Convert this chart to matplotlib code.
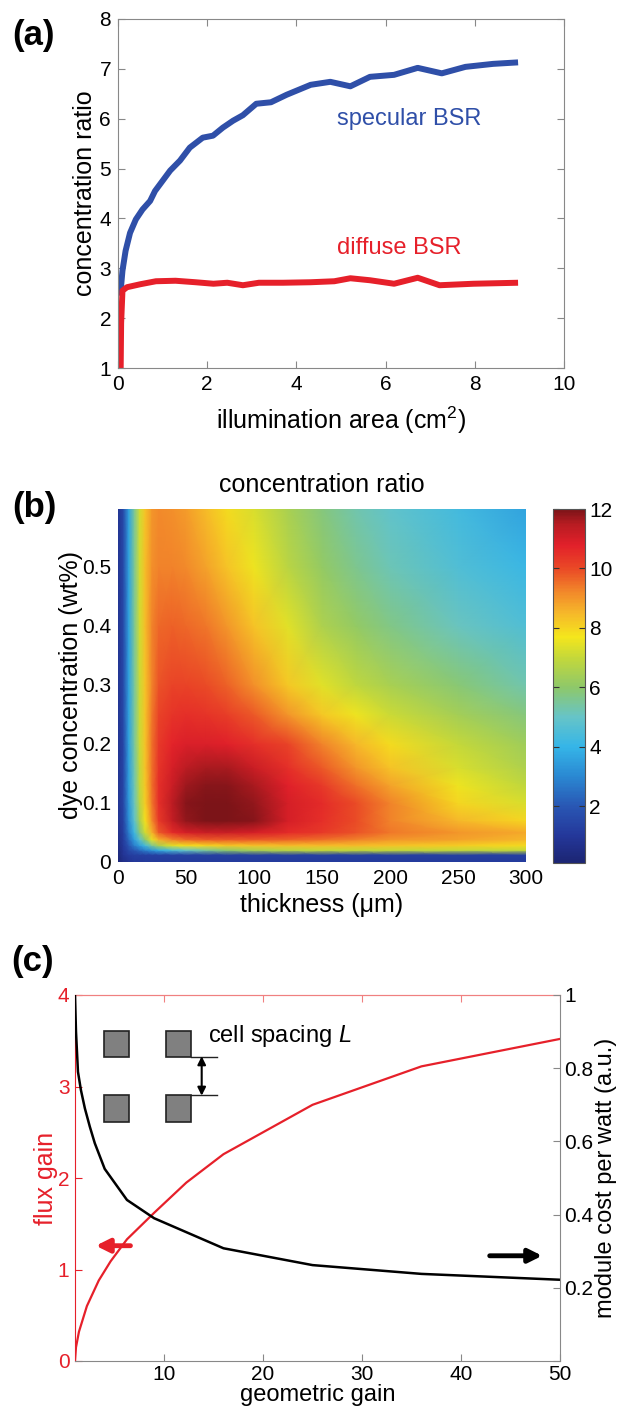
import matplotlib
matplotlib.use('Agg')
import matplotlib.pyplot as plt
import numpy as np
from matplotlib.patches import Rectangle
from matplotlib.colors import LinearSegmentedColormap

plt.rcParams['font.family'] = ['Liberation Sans', 'DejaVu Sans']
plt.rcParams['mathtext.fontset'] = 'custom'
plt.rcParams['mathtext.rm'] = 'Liberation Sans'
plt.rcParams['mathtext.it'] = 'Liberation Sans:italic'
plt.rcParams['mathtext.default'] = 'regular'

# ---------------- data: panel (a) ----------------
area_spec = [0.05, 0.1, 0.17, 0.27, 0.4, 0.55, 0.72, 0.83, 1.17, 1.39, 1.61, 1.9, 2.13,
             2.35, 2.58, 2.8, 3.1, 3.43, 3.78, 4.32, 4.76, 5.21, 5.65, 6.19, 6.72, 7.26,
             7.79, 8.41, 8.97]
ratio_spec = [2.45, 2.95, 3.35, 3.71, 3.98, 4.18, 4.35, 4.55, 4.96, 5.16, 5.42, 5.62, 5.66,
              5.82, 5.96, 6.07, 6.3, 6.33, 6.48, 6.68, 6.74, 6.65, 6.84, 6.88, 7.02, 6.91,
              7.04, 7.10, 7.13]
area_diff = [0.06, 0.07, 0.1, 0.2, 0.5, 0.85, 1.29, 1.74, 2.14, 2.45, 2.8, 3.16, 3.7, 4.32,
             4.85, 5.21, 5.65, 6.19, 6.72, 7.21, 7.97, 8.97]
ratio_diff = [1.0, 1.9, 2.55, 2.62, 2.68, 2.74, 2.75, 2.72, 2.69, 2.71, 2.66, 2.71, 2.71,
              2.72, 2.74, 2.80, 2.76, 2.69, 2.81, 2.66, 2.69, 2.71]

# ---------------- data: panel (b) ----------------
thickness = [0, 4, 8, 12, 16, 20, 25, 30, 40, 50, 65, 80, 100, 125, 150, 175, 200, 250, 300]
dye_conc = [0, 0.012, 0.02, 0.028, 0.038, 0.05, 0.07, 0.1, 0.13, 0.16, 0.2, 0.25, 0.3,
            0.4, 0.5, 0.6]
ratio_map = [
    [0.2, 0.6, 0.8, 1.0, 1.0, 1.1, 1.1, 1.1, 1.1, 1.1, 1.1, 1.1, 1.1, 1.1, 1.1, 1.1, 1.1, 1.1, 1.1],
    [0.3, 0.9, 1.2, 1.3, 1.3, 1.3, 1.3, 1.3, 1.3, 1.3, 1.3, 1.3, 1.3, 1.3, 1.3, 1.3, 1.3, 1.3, 1.3],
    [0.4, 1.0, 1.6, 2.0, 2.4, 2.8, 3.3, 3.8, 4.5, 5.0, 5.5, 6.0, 6.5, 6.8, 7.0, 7.0, 7.0, 7.0, 7.0],
    [0.5, 1.1, 2.0, 2.8, 3.5, 4.3, 5.5, 6.5, 7.4, 7.8, 8.0, 8.2, 8.3, 8.4, 8.4, 8.4, 8.3, 8.1, 7.9],
    [0.6, 1.2, 2.4, 3.5, 4.8, 6.0, 7.5, 8.6, 9.3, 9.6, 9.8, 9.8, 9.8, 9.7, 9.5, 9.3, 9.0, 8.8, 8.5],
    [0.7, 1.3, 2.8, 4.2, 5.8, 7.2, 8.6, 9.8, 10.6, 11.0, 11.2, 11.2, 11.0, 10.6, 10.3, 9.9, 9.4, 9.0, 8.7],
    [0.8, 1.4, 3.2, 4.8, 6.5, 7.8, 9.2, 10.3, 11.3, 11.8, 12.0, 12.0, 11.9, 11.0, 10.5, 10.0, 9.3, 8.5, 8.0],
    [0.8, 1.5, 3.4, 5.1, 6.8, 8.1, 9.4, 10.5, 11.4, 11.9, 12.0, 12.0, 11.8, 11.0, 10.6, 10.0, 9.3, 8.0, 7.3],
    [0.8, 1.5, 3.5, 5.2, 7.0, 8.2, 9.5, 10.5, 11.2, 11.7, 11.9, 11.9, 11.6, 10.8, 10.3, 9.5, 8.8, 7.6, 6.9],
    [0.8, 1.5, 3.5, 5.3, 7.0, 8.3, 9.5, 10.4, 11.0, 11.4, 11.6, 11.6, 11.2, 10.5, 9.8, 9.0, 8.3, 7.3, 6.6],
    [0.8, 1.5, 3.6, 5.4, 7.1, 8.3, 9.5, 10.3, 10.7, 10.9, 10.9, 10.8, 10.5, 10.1, 9.3, 8.5, 7.9, 7.0, 6.3],
    [0.8, 1.6, 3.6, 5.4, 7.1, 8.3, 9.4, 10.1, 10.4, 10.5, 10.4, 10.2, 9.8, 9.0, 8.2, 7.6, 7.1, 6.4, 5.8],
    [0.8, 1.6, 3.6, 5.4, 7.1, 8.3, 9.3, 9.9, 10.1, 10.1, 10.0, 9.7, 9.1, 8.2, 7.4, 6.9, 6.5, 5.9, 5.3],
    [0.8, 1.6, 3.6, 5.5, 7.2, 8.4, 9.3, 9.6, 9.7, 9.6, 9.4, 9.0, 8.3, 7.4, 6.6, 6.1, 5.7, 5.1, 4.6],
    [0.8, 1.6, 3.6, 5.5, 7.2, 8.4, 9.1, 9.3, 9.3, 9.2, 8.8, 8.3, 7.6, 6.8, 6.1, 5.6, 5.2, 4.6, 4.1],
    [0.8, 1.6, 3.6, 5.5, 7.2, 8.3, 9.0, 9.2, 9.1, 8.9, 8.4, 7.9, 7.3, 6.5, 5.8, 5.3, 4.9, 4.3, 3.6],
]
cbar_ticks = [2, 4, 6, 8, 10, 12]

# ---------------- data: panel (c) ----------------
gain_flux = [1, 1.1, 1.4, 2.2, 3.4, 4.6, 6.25, 9, 12.25, 16, 25, 36, 50]
flux_gain = [0, 0.15, 0.32, 0.6, 0.88, 1.09, 1.33, 1.62, 1.95, 2.26, 2.80, 3.22, 3.52]
gain_cost = [1, 1.1, 1.3, 1.6, 2.0, 2.5, 3.0, 4.0, 6.25, 9, 16, 25, 36, 50]
module_cost = [1.0, 0.9, 0.79, 0.74, 0.69, 0.64, 0.595, 0.525, 0.44, 0.39, 0.308, 0.262, 0.238, 0.222]

BLUE = '#2f4fa8'
RED = '#e6202a'
GRAY = '#888888'
TICK = 15
LAB = 18

VMIN, VMAX = 0.1, 12.0
cmap_anchor_vals = [0.1, 1.0, 2.0, 3.0, 4.0, 5.0, 6.0, 7.0, 7.7, 8.5, 9.2, 10.0, 10.8, 11.5, 12.0]
cmap_anchor_cols = ['#1c2573', '#24379a', '#2957b4', '#2a88d2', '#35b5e8', '#66c4c8',
                    '#8ec86a', '#c4d83a', '#f4e61c', '#f6b82a', '#f28a2a', '#ea4a26',
                    '#e2202a', '#b81c22', '#7c1418']
cmap = LinearSegmentedColormap.from_list(
    'ref_jet', [((v - VMIN) / (VMAX - VMIN), c) for v, c in zip(cmap_anchor_vals, cmap_anchor_cols)])

W, H = 619, 1412
fig = plt.figure(figsize=(W / 100, H / 100), dpi=100)

def box(l, r, t, b):
    return [l / W, 1 - b / H, (r - l) / W, (b - t) / H]

# ---------------- panel (a) ----------------
axa = fig.add_axes(box(118, 564, 19, 368))
axa.plot(area_spec, ratio_spec, color=BLUE, lw=4.3, solid_capstyle='butt', solid_joinstyle='round')
axa.plot(area_diff, ratio_diff, color=RED, lw=4.3, solid_capstyle='butt', solid_joinstyle='round')
axa.set_xlim(0, 10)
axa.set_ylim(1, 8)
axa.set_xticks(range(0, 11, 2))
axa.set_yticks(range(1, 9))
axa.tick_params(direction='in', top=True, right=True, labelsize=TICK, length=5,
                color=GRAY, pad=5)
for s in axa.spines.values():
    s.set_color(GRAY)
axa.set_xlabel('illumination area (cm$^2$)', fontsize=LAB, labelpad=8)
axa.set_ylabel('concentration ratio', fontsize=LAB, labelpad=2)
axa.text(4.9, 6.0, 'specular BSR', color=BLUE, fontsize=17, va='center')
axa.text(4.9, 3.4, 'diffuse BSR', color=RED, fontsize=17, va='center')
fig.text(34 / W, 1 - 36 / H, '(a)', fontsize=25, fontweight='bold', ha='center', va='center')

# ---------------- panel (b) ----------------
axb = fig.add_axes(box(118, 526, 509, 862))
mesh = axb.pcolormesh(np.array(thickness), np.array(dye_conc), np.array(ratio_map),
                      cmap=cmap, shading='gouraud', vmin=VMIN, vmax=VMAX)
axb.set_xlim(0, 300)
axb.set_ylim(0, 0.598)
axb.set_xticks(range(0, 301, 50))
axb.set_yticks([0, 0.1, 0.2, 0.3, 0.4, 0.5])
axb.set_yticklabels(['0', '0.1', '0.2', '0.3', '0.4', '0.5'])
axb.tick_params(direction='in', labelsize=TICK, length=0, pad=5)
for s in axb.spines.values():
    s.set_visible(False)
axb.set_xlabel('thickness (\u03bcm)', fontsize=LAB, labelpad=4)
axb.set_ylabel('dye concentration (wt%)', fontsize=LAB, labelpad=-1)
axb.set_title('concentration ratio', fontsize=LAB, pad=12)
fig.text(34 / W, 1 - 507 / H, '(b)', fontsize=25, fontweight='bold', ha='center', va='center')

cax = fig.add_axes(box(553, 585, 509, 863))
cb = fig.colorbar(mesh, cax=cax, ticks=cbar_ticks)
cb.outline.set_edgecolor('#555555')
cb.outline.set_linewidth(0.8)
cax.tick_params(direction='in', left=True, right=True, length=4, labelsize=TICK, pad=3,
                color='#333333')

# ---------------- panel (c) ----------------
axc = fig.add_axes(box(75, 560, 995, 1361))
axc.plot(gain_flux, flux_gain, color=RED, lw=1.6)
axc.set_xlim(1, 50)
axc.set_ylim(0, 4)
axc.set_xticks([10, 20, 30, 40, 50])
axc.set_yticks([0, 1, 2, 3, 4])
axc.tick_params(axis='x', direction='in', labelsize=TICK, length=5, color=GRAY, pad=3)
axc.tick_params(axis='y', direction='in', labelsize=TICK, length=5, color=RED,
                labelcolor=RED, pad=4)
axc.spines['left'].set_color(RED)
axc.spines['top'].set_color('#f08080')
axc.spines['bottom'].set_color(GRAY)
axc.spines['right'].set_visible(False)
secx = axc.secondary_xaxis('top')
secx.set_xticks([10, 20, 30, 40, 50])
secx.tick_params(direction='in', length=5, color='#f08080', labeltop=False)
secx.spines['top'].set_color('#f08080')
axc.set_xlabel('geometric gain', fontsize=17, labelpad=0)
axc.set_ylabel('flux gain', fontsize=LAB, color=RED, labelpad=0)

ax2 = axc.twinx()
ax2.plot(gain_cost, module_cost, color='black', lw=1.8)
ax2.set_ylim(0, 1)
ax2.set_yticks([0, 0.2, 0.4, 0.6, 0.8, 1])
ax2.set_yticklabels(['', '0.2', '0.4', '0.6', '0.8', '1'])
ax2.tick_params(direction='in', labelsize=TICK, length=5, color=GRAY, pad=3)
for k in ['left', 'top', 'bottom']:
    ax2.spines[k].set_visible(False)
ax2.spines['right'].set_color(GRAY)
ax2.set_ylabel('module cost per watt (a.u.)', fontsize=17, labelpad=1)

# inset sketch of cells
for (x0, x1) in [(3.93, 6.45), (10.2, 12.7)]:
    for (y0, y1) in [(3.32, 3.61), (2.61, 2.91)]:
        axc.add_patch(Rectangle((x0, y0), x1 - x0, y1 - y0, facecolor='#808080',
                                edgecolor='#222222', lw=1.2, zorder=3))
axc.plot([12.7, 15.3], [3.32, 3.32], color='#222222', lw=1.0)
axc.plot([12.7, 15.3], [2.91, 2.91], color='#222222', lw=1.0)
axc.annotate('', xy=(13.8, 3.33), xytext=(13.8, 2.90),
             arrowprops=dict(arrowstyle='<|-|>', color='black', lw=1.5, mutation_scale=12,
                             shrinkA=0, shrinkB=0))
axc.text(14.4, 3.55, 'cell spacing $\\mathit{L}$', fontsize=17, va='center')
axc.annotate('', xy=(3.1, 1.26), xytext=(6.6, 1.26),
             arrowprops=dict(arrowstyle='-|>', color=RED, lw=3.5, mutation_scale=20,
                             shrinkA=0, shrinkB=0))
axc.annotate('', xy=(48.2, 1.15), xytext=(42.9, 1.15),
             arrowprops=dict(arrowstyle='-|>', color='black', lw=3.5, mutation_scale=20,
                             shrinkA=0, shrinkB=0))
fig.text(33 / W, 1 - 961 / H, '(c)', fontsize=25, fontweight='bold', ha='center', va='center')

fig.savefig('out.png', dpi=100)
